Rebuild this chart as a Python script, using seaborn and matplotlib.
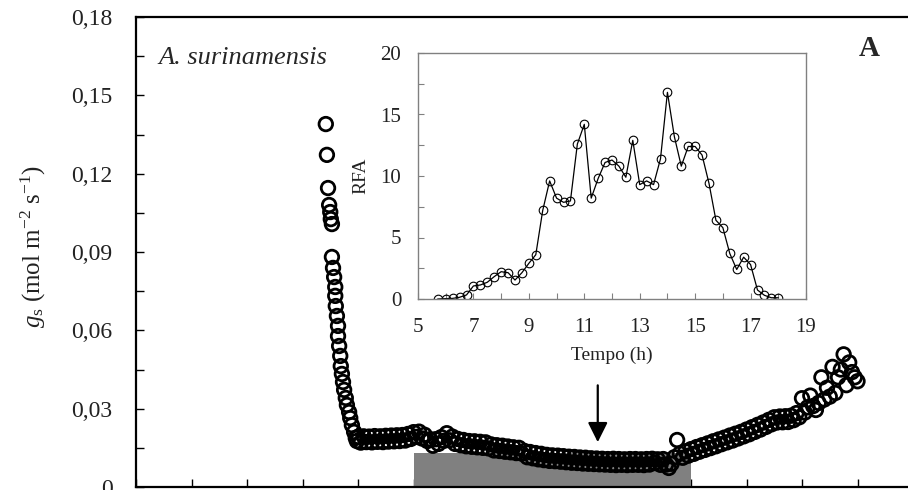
import numpy as np
import pandas as pd
import matplotlib
matplotlib.use("Agg")
import matplotlib.pyplot as plt
from matplotlib.ticker import MultipleLocator, FuncFormatter
import seaborn as sns

# Stomatal conductance over the day (h, mol m-2 s-1)
gs_time = [
    8.42, 8.44, 8.46, 8.48, 8.50, 8.51, 8.53, 8.53, 8.55, 8.57,
    8.59, 8.59, 8.60, 8.62, 8.64, 8.64, 8.66, 8.68, 8.69, 8.71,
    8.73, 8.75, 8.78, 8.80, 8.84, 8.86, 8.89, 8.93, 8.96, 8.98,
    9.00, 9.05, 9.10, 9.15, 9.20, 9.25, 9.30, 9.35, 9.40, 9.45,
    9.50, 9.55, 9.60, 9.65, 9.70, 9.75, 9.80, 9.85, 9.90, 9.95,
    10.00, 10.05, 10.10, 10.15, 10.20, 10.25, 10.30, 10.35, 10.40, 10.45,
    10.50, 10.55, 10.60, 10.65, 10.70, 10.75, 10.80, 10.85, 10.90, 10.95,
    11.00, 11.05, 11.10, 11.15, 11.20, 11.25, 11.30, 11.35, 11.40, 11.45,
    11.50, 11.55, 11.60, 11.65, 11.70, 11.75, 11.80, 11.85, 11.90, 11.95,
    12.00, 12.05, 12.10, 12.15, 12.20, 12.25, 12.30, 12.35, 12.40, 12.45,
    12.50, 12.55, 12.60, 12.65, 12.70, 12.75, 12.80, 12.85, 12.90, 12.95,
    13.00, 13.05, 13.10, 13.15, 13.20, 13.25, 13.30, 13.35, 13.40, 13.45,
    13.50, 13.55, 13.60, 13.65, 13.70, 13.75, 13.80, 13.85, 13.90, 13.95,
    14.00, 14.05, 14.10, 14.15, 14.20, 14.25, 14.30, 14.35, 14.40, 14.45,
    14.50, 14.55, 14.60, 14.65, 14.70, 14.75, 14.80, 14.85, 14.90, 14.95,
    15.00, 15.05, 15.10, 15.15, 15.20, 15.25, 15.30, 15.35, 15.40, 15.45,
    15.50, 15.55, 15.60, 15.65, 15.70, 15.75, 15.80, 15.85, 15.90, 15.95,
    16.00, 16.05, 16.10, 16.15, 16.20, 16.25, 16.30, 16.35, 16.40, 16.45,
    16.50, 16.55, 16.60, 16.65, 16.70, 16.75, 16.80, 16.85, 16.90, 16.95,
    17.00, 17.05, 17.10, 17.15, 17.20, 17.25, 17.30, 17.35, 17.40, 17.45,
    17.50, 17.55, 17.60, 17.65, 17.70, 17.75, 17.80, 17.85, 17.90, 17.95,
    18.00,
]
gs_value = [
    0.1390, 0.1272, 0.1145, 0.1080, 0.1053, 0.1026, 0.1007, 0.0881, 0.0839, 0.0804,
    0.0766, 0.0732, 0.0693, 0.0655, 0.0617, 0.0578, 0.0540, 0.0502, 0.0463, 0.0433,
    0.0402, 0.0372, 0.0341, 0.0314, 0.0287, 0.0264, 0.0237, 0.0211, 0.0188, 0.0176,
    0.0192, 0.0170, 0.0194, 0.0172, 0.0193, 0.0171, 0.0195, 0.0173, 0.0194, 0.0172,
    0.0196, 0.0174, 0.0197, 0.0175, 0.0198, 0.0176, 0.0199, 0.0178, 0.0203, 0.0184,
    0.0210, 0.0192, 0.0212, 0.0186, 0.0200, 0.0176, 0.0183, 0.0158, 0.0183, 0.0165,
    0.0191, 0.0177, 0.0206, 0.0179, 0.0193, 0.0165, 0.0184, 0.0160, 0.0180, 0.0156,
    0.0176, 0.0154, 0.0175, 0.0152, 0.0173, 0.0150, 0.0171, 0.0148, 0.0163, 0.0140,
    0.0160, 0.0138, 0.0158, 0.0135, 0.0155, 0.0133, 0.0152, 0.0130, 0.0150, 0.0128,
    0.0138, 0.0114, 0.0134, 0.0110, 0.0130, 0.0106, 0.0127, 0.0103, 0.0123, 0.0100,
    0.0121, 0.0099, 0.0120, 0.0097, 0.0118, 0.0095, 0.0116, 0.0093, 0.0115, 0.0092,
    0.0113, 0.0090, 0.0112, 0.0089, 0.0110, 0.0088, 0.0109, 0.0087, 0.0108, 0.0086,
    0.0107, 0.0085, 0.0108, 0.0084, 0.0107, 0.0085, 0.0106, 0.0084, 0.0107, 0.0085,
    0.0107, 0.0085, 0.0106, 0.0084, 0.0107, 0.0086, 0.0108, 0.0092, 0.0106, 0.0085,
    0.0107, 0.0086, 0.0073, 0.0089, 0.0114, 0.0180, 0.0128, 0.0112, 0.0137, 0.0120,
    0.0145, 0.0127, 0.0153, 0.0135, 0.0160, 0.0142, 0.0167, 0.0149, 0.0175, 0.0156,
    0.0182, 0.0164, 0.0189, 0.0171, 0.0197, 0.0178, 0.0204, 0.0186, 0.0211, 0.0194,
    0.0220, 0.0202, 0.0229, 0.0211, 0.0238, 0.0220, 0.0247, 0.0230, 0.0257, 0.0240,
    0.0267, 0.0247, 0.0270, 0.0248, 0.0271, 0.0249, 0.0273, 0.0256, 0.0283, 0.0267,
    0.0340, 0.0285, 0.0305, 0.0350, 0.0310, 0.0295, 0.0322, 0.0420, 0.0335, 0.0380,
    0.0346, 0.0460, 0.0360, 0.0420, 0.0450, 0.0508, 0.0390, 0.0477, 0.0440, 0.0420,
    0.0405,
]

# Photosynthetically active radiation (inset)
rfa_time = [
    5.71, 6.00, 6.25, 6.50, 6.75, 7.00, 7.25, 7.50, 7.75, 8.00,
    8.25, 8.50, 8.75, 9.00, 9.25, 9.50, 9.75, 10.00, 10.25, 10.50,
    10.75, 11.00, 11.25, 11.50, 11.75, 12.00, 12.25, 12.50, 12.75, 13.00,
    13.25, 13.50, 13.75, 14.00, 14.25, 14.50, 14.75, 15.00, 15.25, 15.50,
    15.75, 16.00, 16.25, 16.50, 16.75, 17.00, 17.25, 17.50, 17.75, 18.00,
]
rfa_value = [
    0.0, 0.03, 0.05, 0.14, 0.33, 1.06, 1.14, 1.36, 1.82, 2.22,
    2.14, 1.54, 2.14, 2.9, 3.6, 7.2, 9.6, 8.2, 7.86, 7.97,
    12.6, 14.2, 8.2, 9.8, 11.1, 11.3, 10.8, 9.9, 12.9, 9.3,
    9.6, 9.3, 11.4, 16.8, 13.2, 10.8, 12.4, 12.4, 11.7, 9.4,
    6.4, 5.8, 3.7, 2.4, 3.4, 2.8, 0.73, 0.3, 0.1, 0.1,
]

# Shaded period and marked instant
shade_start, shade_end, shade_top = 10.0, 15.0, 0.013
arrow_time, arrow_from, arrow_to = 13.32, 0.040, 0.0161

gs_df = pd.DataFrame({"hora": gs_time, "gs": gs_value})
rfa_df = pd.DataFrame({"hora": rfa_time, "rfa": rfa_value})

sns.set_theme(style="ticks")
plt.rcParams["font.family"] = ["Liberation Serif", "DejaVu Serif"]
plt.rcParams["mathtext.fontset"] = "custom"
plt.rcParams["mathtext.rm"] = "Liberation Serif"
plt.rcParams["mathtext.it"] = "Liberation Serif:italic"

W, H = 908, 490
fig = plt.figure(figsize=(W / 100, H / 100), dpi=100)
fig.patch.set_facecolor("white")

# ---- main panel ----
ax = fig.add_axes([136 / W, 3 / H, 777 / W, 470 / H])
ax.set_facecolor("white")
ax.fill_between([shade_start, shade_end], 0, shade_top, color="#808080",
                linewidth=0, zorder=1)
sns.scatterplot(data=gs_df, x="hora", y="gs", ax=ax, marker="o", s=95,
                fc="none", ec="black", linewidth=2.0, zorder=3, legend=False)
ax.annotate("", xy=(arrow_time, arrow_to), xytext=(arrow_time, arrow_from),
            arrowprops=dict(arrowstyle="-|>,head_length=1.0,head_width=0.5",
                            mutation_scale=12, color="black", lw=1.6),
            zorder=4)
ax.set_xlim(5, 19)
ax.set_ylim(0, 0.18)
ax.xaxis.set_major_locator(MultipleLocator(1))
ax.xaxis.set_major_formatter(FuncFormatter(lambda v, p: ""))
ax.yaxis.set_major_locator(MultipleLocator(0.03))
ax.yaxis.set_minor_locator(MultipleLocator(0.015))
ax.yaxis.set_major_formatter(FuncFormatter(
    lambda v, p: "0" if abs(v) < 1e-9 else f"{v:.2f}".replace(".", ",")))
ax.tick_params(axis="both", which="both", direction="in", length=6, width=1,
               color="black")
ax.tick_params(axis="y", which="major", pad=17, labelsize=17,
               labelcolor="#222222")
for s in ax.spines.values():
    s.set_linewidth(1.6)
    s.set_color("black")
ax.set_xlabel("")
ax.set_ylabel("")
fig.text(33 / W, 1 - 246 / H,
         r"$g_\mathrm{s}$ (mol m$^{\mathrm{-2}}$ s$^{\mathrm{-1}}$)",
         rotation=90, ha="center", va="center", fontsize=18, color="#222222")
fig.text(158 / W, 1 - 57.5 / H, "A. surinamensis", style="italic",
         ha="left", va="center", fontsize=19)
fig.text(869 / W, 1 - 48 / H, "A", weight="bold", ha="center", va="center",
         fontsize=21)

# ---- inset ----
axi = fig.add_axes([418 / W, 1 - 299 / H, 388 / W, 246 / H])
axi.set_facecolor("white")
sns.lineplot(data=rfa_df, x="hora", y="rfa", ax=axi, color="black", lw=0.9,
             marker="o", markersize=6.2, markerfacecolor="none",
             markeredgecolor="black", markeredgewidth=0.8)
axi.set_xlim(5, 19)
axi.set_ylim(0, 20)
axi.set_xticks(np.arange(5, 20, 2))
axi.xaxis.set_minor_locator(MultipleLocator(1))
axi.set_yticks(np.arange(0, 21, 5))
axi.yaxis.set_minor_locator(MultipleLocator(2.5))
axi.tick_params(axis="both", which="both", direction="in", length=4,
                width=0.8, color="#808080", labelsize=15, labelcolor="#222222")
axi.tick_params(axis="x", which="major", pad=14)
axi.tick_params(axis="y", which="major", pad=12)
for s in axi.spines.values():
    s.set_linewidth(1.0)
    s.set_color("#808080")
axi.set_xlabel("Tempo (h)", fontsize=14, color="#222222", labelpad=7)
axi.set_ylabel("RFA", fontsize=14, color="#222222", labelpad=8)

fig.savefig("out.png", dpi=100, facecolor="white")
